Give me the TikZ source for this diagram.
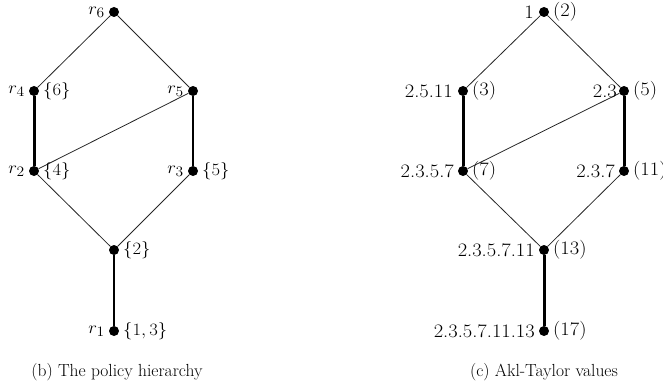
\documentclass[tikz,border=0pt]{standalone}
\usepackage{graphicx}
\newcommand{\widetxt}[1]{\scalebox{1.08}[1]{#1}}
\begin{document}
\begin{tikzpicture}[x=1pt,y=-1pt,
  dot/.style={circle,fill=black,inner sep=0pt,minimum size=10pt},
  thin edge/.style={line width=0.8pt,draw=black!85},
  mid edge/.style={line width=1.2pt},
  thick edge/.style={line width=3pt},
  lab/.style={font=\fontsize{19}{21}\selectfont,inner sep=0pt},
  captext/.style={font=\fontsize{17.5}{19}\selectfont,inner sep=0pt}]
\useasboundingbox (0,0) rectangle (663,385);
% left diagram
\node[dot] (r6) at (114,12) {};
\node[dot] (r4) at (34,91) {};
\node[dot] (r5) at (193,91) {};
\node[dot] (r2) at (34,171) {};
\node[dot] (r3) at (193,171) {};
\node[dot] (m)  at (114,250) {};
\node[dot] (r1) at (114,331) {};
\draw[thin edge] (r6) -- (r4);
\draw[thin edge] (r6) -- (r5);
\draw[thick edge] (r4) -- (r2);
\draw[thin edge] (r5) -- (r2);
\draw[mid edge] (r5) -- (r3);
\draw[thin edge] (r2) -- (m);
\draw[thin edge] (r3) -- (m);
\draw[mid edge] (m) -- (r1);
\node[lab,anchor=east] (l6) at ([xshift=-9pt]r6.center) {\widetxt{$r_6$}};
\node[lab,anchor=east] (l4) at ([xshift=-9pt]r4.center) {\widetxt{$r_4$}};
\node[lab,anchor=west] (s4) at ([xshift=9pt]r4.center) {\widetxt{$\{6\}$}};
\node[lab,anchor=east] (l5) at ([xshift=-9pt]r5.center) {\widetxt{$r_5$}};
\node[lab,anchor=east] (l2) at ([xshift=-9pt]r2.center) {\widetxt{$r_2$}};
\node[lab,anchor=west] (s2) at ([xshift=9pt]r2.center) {\widetxt{$\{4\}$}};
\node[lab,anchor=east] (l3) at ([xshift=-9pt]r3.center) {\widetxt{$r_3$}};
\node[lab,anchor=west] (s3) at ([xshift=9pt]r3.center) {\widetxt{$\{5\}$}};
\node[lab,anchor=west] (sm) at ([xshift=9pt]m.center) {\widetxt{$\{2\}$}};
\node[lab,anchor=east] (l1) at ([xshift=-9pt]r1.center) {\widetxt{$r_1$}};
\node[lab,anchor=west] (s1) at ([xshift=9pt]r1.center) {\widetxt{$\{1,3\}$}};
\node[captext] (capb) at (117,372) {(b) The policy hierarchy};
% right diagram
\node[dot] (a6) at (544,12) {};
\node[dot] (a4) at (463,91) {};
\node[dot] (a5) at (624,91) {};
\node[dot] (a2) at (463,171) {};
\node[dot] (a3) at (624,171) {};
\node[dot] (am) at (544,250) {};
\node[dot] (a1) at (544,331) {};
\draw[thin edge] (a6) -- (a4);
\draw[thin edge] (a6) -- (a5);
\draw[thick edge] (a4) -- (a2);
\draw[thin edge] (a5) -- (a2);
\draw[thick edge] (a5) -- (a3);
\draw[thin edge] (a2) -- (am);
\draw[thin edge] (a3) -- (am);
\draw[thick edge] (am) -- (a1);
\node[lab,anchor=east] (v6) at ([xshift=-10pt]a6.center) {\widetxt{1}};
\node[lab,anchor=west] (p6) at ([xshift=9pt]a6.center) {\widetxt{(2)}};
\node[lab,anchor=east] (v4) at ([xshift=-10pt]a4.center) {\widetxt{2.5.11}};
\node[lab,anchor=west] (p4) at ([xshift=9pt]a4.center) {\widetxt{(3)}};
\node[lab,anchor=east] (v5) at ([xshift=-7pt]a5.center) {\widetxt{2.3}};
\node[lab,anchor=west] (p5) at ([xshift=9pt]a5.center) {\widetxt{(5)}};
\node[lab,anchor=east] (v2) at ([xshift=-9pt]a2.center) {\widetxt{2.3.5.7}};
\node[lab,anchor=west] (p2) at ([xshift=9pt]a2.center) {\widetxt{(7)}};
\node[lab,anchor=east] (v3) at ([xshift=-9pt]a3.center) {\widetxt{2.3.7}};
\node[lab,anchor=west] (p3) at ([xshift=9pt]a3.center) {\widetxt{(11)}};
\node[lab,anchor=east] (vm) at ([xshift=-9pt]am.center) {\widetxt{2.3.5.7.11}};
\node[lab,anchor=west] (pm) at ([xshift=9pt]am.center) {\widetxt{(13)}};
\node[lab,anchor=east] (v1) at ([xshift=-9pt]a1.center) {\widetxt{2.3.5.7.11.13}};
\node[lab,anchor=west] (p1) at ([xshift=9pt]a1.center) {\widetxt{(17)}};
\node[captext] (capc) at (544,372) {(c) Akl-Taylor values};
\end{tikzpicture}
\end{document}
